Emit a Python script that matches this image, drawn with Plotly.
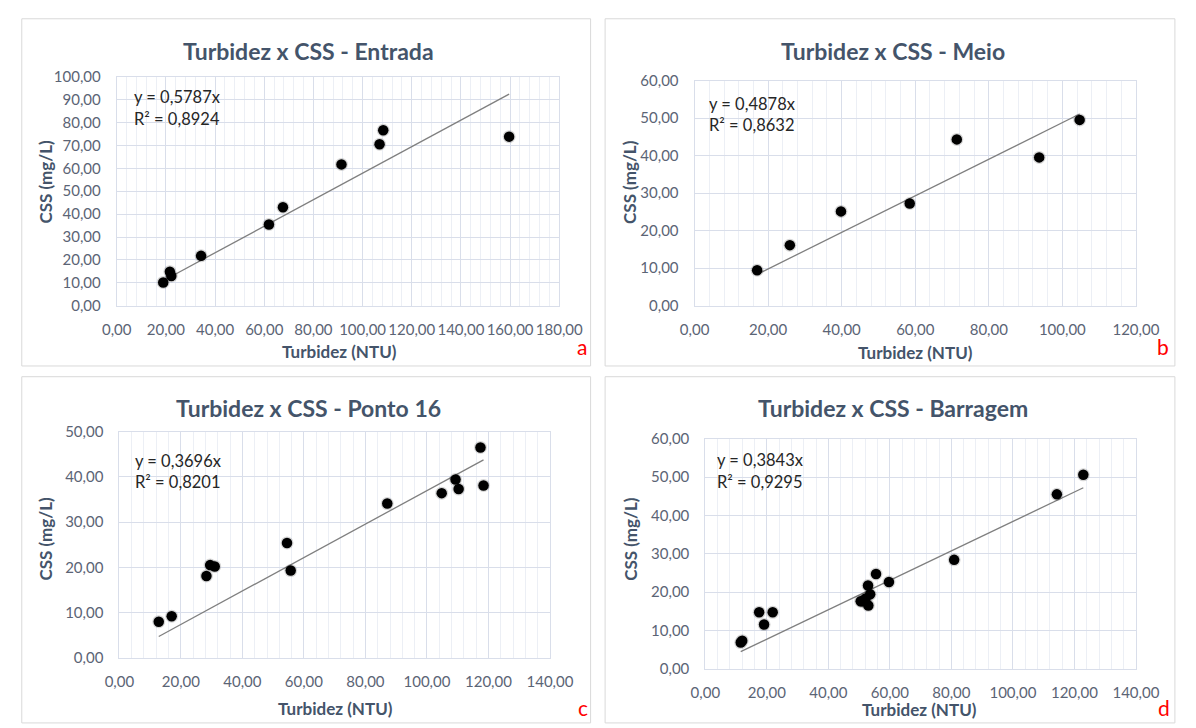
import plotly.graph_objects as go

# ---------------- data ----------------
titles = ["Turbidez x CSS - Entrada", "Turbidez x CSS - Meio",
          "Turbidez x CSS - Ponto 16", "Turbidez x CSS - Barragem"]
panel_letters = ["a", "b", "c", "d"]
slopes = [0.5787, 0.4878, 0.3696, 0.3843]
r2_values = [0.8924, 0.8632, 0.8201, 0.9295]

entrada_turb = [18.9, 21.6, 22.2, 34.3, 61.9, 67.6, 91.4, 106.9, 108.4, 159.6]
entrada_css = [10.2, 14.9, 13.0, 21.8, 35.5, 43.0, 61.7, 70.5, 76.6, 73.8]

meio_turb = [17.0, 25.9, 39.8, 58.5, 71.3, 93.7, 104.7]
meio_css = [9.4, 16.1, 25.1, 27.2, 44.3, 39.5, 49.5]

ponto16_turb = [12.8, 17.0, 28.3, 29.5, 31.0, 54.5, 55.7, 87.1, 104.8, 109.3, 110.3, 117.4, 118.4]
ponto16_css = [8.0, 9.2, 18.1, 20.5, 20.2, 25.4, 19.3, 34.1, 36.4, 39.4, 37.3, 46.5, 38.1]

barragem_turb = [11.5, 12.0, 17.5, 19.1, 21.9, 50.5, 51.1, 52.1, 52.9, 53.6, 53.0, 55.5, 59.7, 80.9, 114.3, 122.9]
barragem_css = [6.8, 7.3, 14.7, 11.5, 14.7, 17.6, 17.6, 18.3, 21.7, 19.4, 16.5, 24.7, 22.6, 28.4, 45.5, 50.6]

x_max = [180, 120, 140, 140]
y_max = [100, 60, 50, 60]
y_step = [10, 10, 10, 10]
x_step = [20, 20, 20, 20]

xs = [entrada_turb, meio_turb, ponto16_turb, barragem_turb]
ys = [entrada_css, meio_css, ponto16_css, barragem_css]

# ---------------- layout geometry (pixels) ----------------
W, H = 1196, 728
# plot areas: (left, right, top, bottom)
plot_px = [(105.2, 562.6, 68.3, 303.3),
           (702.5, 1158.7, 72.3, 303.0),
           (107.9, 553.0, 432.3, 664.3),
           (713.6, 1158.7, 439.7, 675.3)]
# panel frames (left, top, right, bottom)
frames = [(7, 9, 595, 365), (610, 9, 1199, 365), (7, 376, 595, 731), (610, 376, 1199, 731)]
title_pos = [(303, 42), (908, 42), (303, 408), (908, 408)]
ytitle_pos = [(32, 176), (635, 176), (32, 542), (636, 542)]
xtitle_pos = [(335, 350), (931, 351), (331, 716), (935, 717)]
eq_pos = [(121, 89, 112), (715, 96, 118), (122, 462, 484), (724, 461, 484)]
letter_pos = [(586, 345), (1187, 345), (587, 715), (1188, 715)]

TITLE_C = "#44546A"
TICK_C = "#5B6475"
GRID_C = "#D9DEEA"
MINOR_C = "#ECEFF5"
FONT = "Lato, 'Open Sans', sans-serif"


def fx(px):
    return px / W


def fy(py):
    return 1 - py / H


fig = go.Figure()
annotations = []
shapes = []

for i in range(4):
    ax = "" if i == 0 else str(i + 1)
    xref, yref = "x" + ax, "y" + ax
    L, R, T, B = plot_px[i]

    # trendline (through origin, spans data range)
    xmin_d, xmax_d = min(xs[i]), max(xs[i])
    fig.add_trace(go.Scatter(
        x=[xmin_d, xmax_d], y=[slopes[i] * xmin_d, slopes[i] * xmax_d],
        mode="lines", line=dict(color="#7F7F7F", width=1.3),
        xaxis=xref, yaxis=yref, showlegend=False, hoverinfo="skip"))
    # soft shadow of markers
    fig.add_trace(go.Scatter(
        x=xs[i], y=ys[i], mode="markers",
        marker=dict(size=13, color="rgba(0,0,0,0.16)", line=dict(width=0)),
        xaxis=xref, yaxis=yref, showlegend=False, hoverinfo="skip"))
    fig.add_trace(go.Scatter(
        x=xs[i], y=ys[i], mode="markers",
        marker=dict(size=10.5, color="#000000", line=dict(width=0)),
        xaxis=xref, yaxis=yref, showlegend=False))

    common = dict(showgrid=True, gridcolor=GRID_C, gridwidth=1,
                  showline=True, linecolor=GRID_C, linewidth=1, mirror=True,
                  zeroline=False, ticks="", tickformat=".2f", tickangle=0,
                  tickfont=dict(family=FONT, size=15, color=TICK_C))
    fig.layout["xaxis" + ax] = dict(
        domain=[fx(L), fx(R)], anchor=yref, range=[0, x_max[i]],
        dtick=x_step[i], tick0=0, ticklabelstandoff=10,
        minor=dict(dtick=x_step[i] / 5, showgrid=True, gridcolor=MINOR_C, gridwidth=1, ticks=""),
        **common)
    fig.layout["yaxis" + ax] = dict(
        domain=[fy(B), fy(T)], anchor=xref, range=[0, y_max[i]],
        dtick=y_step[i], tick0=0, ticklabelstandoff=12,
        **common)

    # panel frame
    fl, ft, fr, fb = frames[i]
    shapes.append(dict(type="rect", xref="paper", yref="paper",
                       x0=fx(fl), x1=fx(fr), y0=fy(fb), y1=fy(ft),
                       line=dict(color="#D9D9D9", width=1), layer="below"))

    tx, ty = title_pos[i]
    annotations.append(dict(text="<b>" + titles[i] + "</b>", x=fx(tx), y=fy(ty),
                            xref="paper", yref="paper", showarrow=False,
                            xanchor="center", yanchor="middle",
                            font=dict(family=FONT, size=23, color=TITLE_C)))
    yx, yy = ytitle_pos[i]
    annotations.append(dict(text="<b>CSS (mg/L)</b>", x=fx(yx), y=fy(yy),
                            xref="paper", yref="paper", showarrow=False, textangle=-90,
                            xanchor="center", yanchor="middle",
                            font=dict(family=FONT, size=17, color=TITLE_C)))
    xx, xy = xtitle_pos[i]
    annotations.append(dict(text="<b>Turbidez (NTU)</b>", x=fx(xx), y=fy(xy),
                            xref="paper", yref="paper", showarrow=False,
                            xanchor="center", yanchor="middle",
                            font=dict(family=FONT, size=17, color=TITLE_C)))
    ex, ey1, ey2 = eq_pos[i]
    slope_txt = ("%.4f" % slopes[i]).replace(".", ",")
    r2_txt = ("%.4f" % r2_values[i]).replace(".", ",")
    annotations.append(dict(text="y = " + slope_txt + "x", x=fx(ex), y=fy(ey1),
                            xref="paper", yref="paper", showarrow=False,
                            xanchor="left", yanchor="middle",
                            font=dict(family=FONT, size=16.5, color="#262626")))
    annotations.append(dict(text="R² = " + r2_txt, x=fx(ex), y=fy(ey2),
                            xref="paper", yref="paper", showarrow=False,
                            xanchor="left", yanchor="middle",
                            font=dict(family=FONT, size=16.5, color="#262626")))
    lx, ly = letter_pos[i]
    annotations.append(dict(text=panel_letters[i], x=fx(lx), y=fy(ly),
                            xref="paper", yref="paper", showarrow=False,
                            xanchor="center", yanchor="middle",
                            font=dict(family=FONT, size=21, color="#FF0000")))

fig.update_layout(
    width=W, height=H, autosize=False,
    margin=dict(l=0, r=0, t=0, b=0),
    paper_bgcolor="white", plot_bgcolor="white",
    separators=",.",
    showlegend=False,
    annotations=annotations, shapes=shapes,
    font=dict(family=FONT),
)

fig.write_html("out.html", config={"displayModeBar": False},
               post_script="document.body.style.margin='0';document.body.style.overflow='hidden';")
